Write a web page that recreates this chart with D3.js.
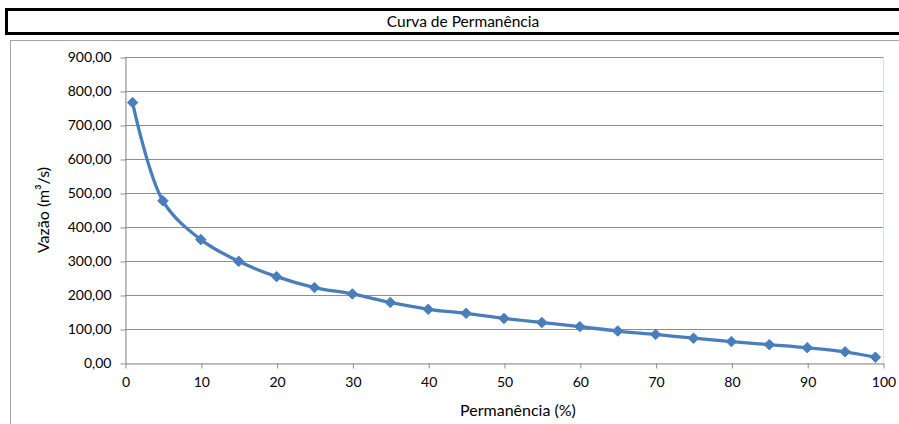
<!DOCTYPE html>
<html>
<head>
<meta charset="utf-8">
<script src="https://cdn.jsdelivr.net/npm/d3@7"></script>
<style>
  html, body { margin: 0; padding: 0; background: #fff; }
  svg { display: block; }
  text { font-family: Lato, "Open Sans", sans-serif; fill: #000; }
</style>
</head>
<body>
<svg id="chart" width="899" height="424"></svg>
<script>
// Flow duration curve: exceedance percentage vs. discharge
const permanencia = [1, 5, 10, 15, 20, 25, 30, 35, 40, 45, 50, 55, 60, 65, 70, 75, 80, 85, 90, 95, 99];
const vazao = [766, 477, 363, 299, 254, 222, 203, 178, 158, 146, 131, 119, 107, 94, 84, 73, 63, 54, 45, 33, 17];
const xTicks = [0, 10, 20, 30, 40, 50, 60, 70, 80, 90, 100];
const yTicks = [0, 100, 200, 300, 400, 500, 600, 700, 800, 900];
const title = "Curva de Permanência";
const xTitle = "Permanência (%)";
const yTitle = "Vazão (m³/s)";

const svg = d3.select("#chart");
const W = 899, H = 424;

// Title box
svg.append("rect")
  .attr("x", 6.5).attr("y", 9.5).attr("width", W + 10).attr("height", 24)
  .attr("fill", "#fff").attr("stroke", "#000").attr("stroke-width", 3);
svg.append("text")
  .attr("x", 463).attr("y", 27)
  .attr("text-anchor", "middle").attr("font-size", 15.5)
  .text(title);

// Chart area frame
svg.append("rect")
  .attr("x", 10.5).attr("y", 40.5).attr("width", W + 10).attr("height", H)
  .attr("fill", "#fff").attr("stroke", "#a6a6a6").attr("stroke-width", 1);

const plot = { left: 125, right: 883, top: 57, bottom: 363 };

const x = d3.scaleLinear().domain([0, 100]).range([plot.left, plot.right]);
const y = d3.scaleLinear().domain([0, 900]).range([plot.bottom, plot.top]);

// Plot area border (light)
svg.append("rect")
  .attr("x", plot.left + 0.5).attr("y", plot.top + 0.5)
  .attr("width", plot.right - plot.left).attr("height", plot.bottom - plot.top)
  .attr("fill", "none").attr("stroke", "#d9dfe9").attr("stroke-width", 1);

// Horizontal gridlines
svg.append("g")
  .selectAll("line")
  .data(yTicks.filter(d => d > 0))
  .join("line")
  .attr("x1", plot.left).attr("x2", plot.right)
  .attr("y1", d => Math.round(y(d)) + 0.5).attr("y2", d => Math.round(y(d)) + 0.5)
  .attr("stroke", "#8c8c8c").attr("stroke-width", 1);

const fmt = d => d3.format(".2f")(d).replace(".", ",");

// Y axis
const yAxis = svg.append("g")
  .attr("transform", `translate(${plot.left + 0.5},0.5)`)
  .call(d3.axisLeft(y).tickValues(yTicks).tickSize(5).tickSizeOuter(0).tickPadding(9).tickFormat(fmt));
yAxis.select(".domain").attr("stroke", "#8c8c8c");
yAxis.selectAll(".tick line").attr("stroke", "#8c8c8c");
yAxis.selectAll(".tick text").attr("font-size", 14).attr("font-family", "Lato, sans-serif").attr("fill", "#000");

// X axis
const xAxis = svg.append("g")
  .attr("transform", `translate(0.5,${plot.bottom + 0.5})`)
  .call(d3.axisBottom(x).tickValues(xTicks).tickSize(5).tickSizeOuter(0).tickPadding(9).tickFormat(d3.format("d")));
xAxis.select(".domain").attr("stroke", "#8c8c8c");
xAxis.selectAll(".tick line").attr("stroke", "#8c8c8c");
xAxis.selectAll(".tick text").attr("font-size", 14).attr("font-family", "Lato, sans-serif").attr("fill", "#000");

// Axis titles
svg.append("text")
  .attr("x", 518).attr("y", 416)
  .attr("text-anchor", "middle").attr("font-size", 16)
  .text(xTitle);
svg.append("text")
  .attr("transform", `translate(49,${(plot.top + plot.bottom) / 2}) rotate(-90)`)
  .attr("text-anchor", "middle").attr("font-size", 16)
  .text(yTitle);

// Smoothed series line
const pts = permanencia.map((p, i) => [p, vazao[i]]);
const line = d3.line()
  .x(d => x(d[0])).y(d => y(d[1]))
  .curve(d3.curveCatmullRom.alpha(0.5));
svg.append("path")
  .datum(pts)
  .attr("d", line)
  .attr("fill", "none").attr("stroke", "#4a7ebb").attr("stroke-width", 3.3)
  .attr("stroke-linejoin", "round");

// Diamond markers
const diamond = d3.symbol().type(d3.symbolDiamond2).size(70);
svg.append("g")
  .selectAll("path")
  .data(pts)
  .join("path")
  .attr("transform", d => `translate(${x(d[0])},${y(d[1])})`)
  .attr("d", diamond)
  .attr("fill", "#4a7ebb").attr("stroke", "#4a7ebb").attr("stroke-width", 1);
</script>
</body>
</html>
